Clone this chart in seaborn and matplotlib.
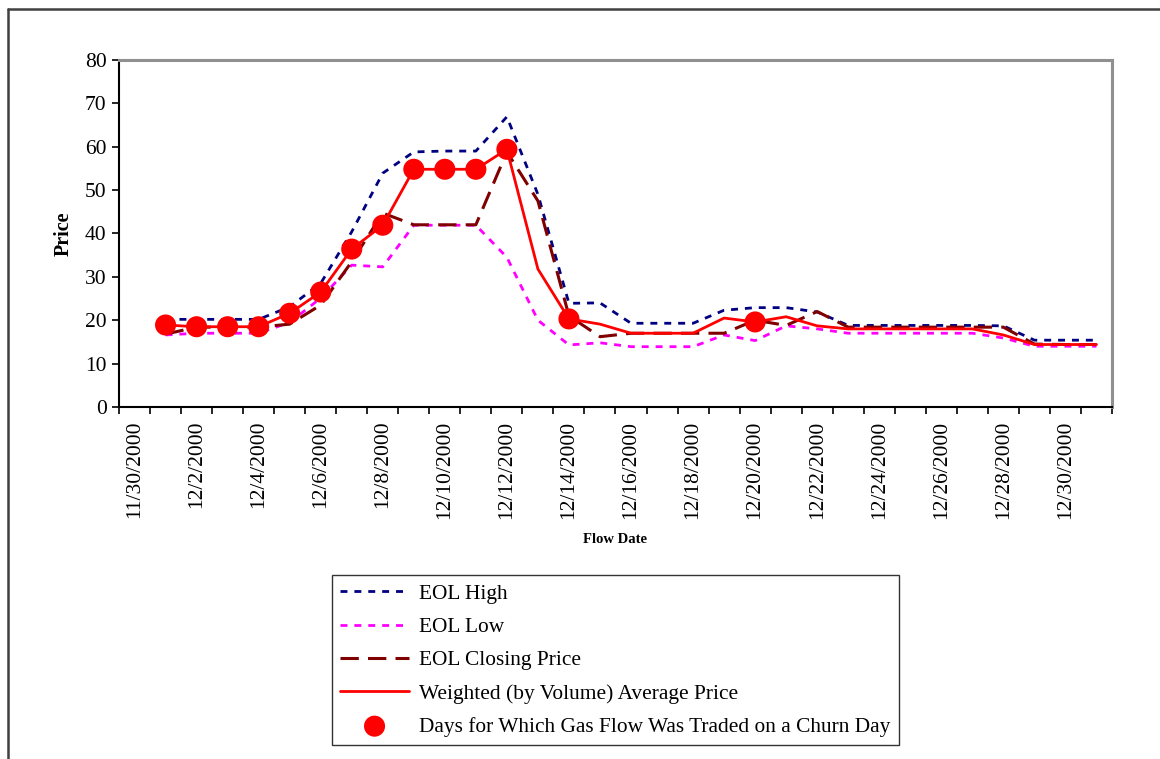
import matplotlib
matplotlib.use("Agg")
import matplotlib.pyplot as plt
import matplotlib.lines as mlines
import seaborn as sns
import pandas as pd

# categories on the axis: 11/30 has no data, 12/1..12/31 do
dates = ["11/30/2000"] + ["12/%d/2000" % d for d in range(1, 32)]
flow_days = list(range(1, 32))

eol_high = [20.2, 20.2, 20.2, 20.2, 23.1, 28.5, 40.4, 53.9, 58.8, 59.0, 59.0, 66.9, 49.0,
            23.9, 24.0, 19.3, 19.3, 19.3, 22.3, 22.9, 22.9, 21.9, 18.8, 18.8, 18.8, 18.8,
            18.8, 18.7, 15.4, 15.4, 15.4]
eol_low = [16.6, 17.0, 17.0, 17.0, 19.5, 25.1, 32.7, 32.3, 41.9, 41.9, 41.9, 34.5, 20.0,
           14.3, 14.8, 13.9, 13.9, 13.9, 16.6, 15.3, 18.7, 18.0, 17.0, 17.0, 17.0, 17.0,
           17.0, 15.9, 14.0, 14.0, 14.0]
eol_close = [16.8, 18.4, 18.4, 18.4, 19.1, 23.5, 33.5, 44.7, 42.0, 42.0, 42.0, 58.8, 47.5,
             21.0, 16.2, 17.0, 17.0, 17.0, 17.0, 20.0, 18.8, 22.0, 18.4, 18.4, 18.4, 18.4,
             18.4, 18.4, 14.5, 14.4, 14.4]
weighted = [18.9, 18.5, 18.5, 18.5, 21.6, 26.5, 36.4, 41.9, 54.8, 54.8, 54.8, 59.4, 31.8,
            20.3, 19.1, 17.0, 17.0, 17.0, 20.5, 19.6, 20.8, 18.7, 18.0, 18.0, 18.0, 18.0,
            18.0, 16.6, 14.4, 14.4, 14.4]
churn_days = [1, 2, 3, 4, 5, 6, 7, 8, 9, 10, 11, 12, 14, 20]

df = pd.DataFrame({"day": flow_days, "high": eol_high, "low": eol_low,
                   "close": eol_close, "wavg": weighted})
churn = df[df["day"].isin(churn_days)]

sns.set_theme(style="white")
plt.rcParams["font.family"] = ["Liberation Serif", "DejaVu Serif"]
plt.rcParams.update({"text.color": "black", "axes.labelcolor": "black",
                     "xtick.color": "black", "ytick.color": "black"})

fig = plt.figure(figsize=(11.6, 7.59), dpi=100)
ax = fig.add_axes([0.1026, 0.4638, 0.856, 0.4572])

sns.lineplot(data=df, x="day", y="high", ax=ax, color="#000080", lw=2,
             label="EOL High")
ax.lines[-1].set_dashes((2.5, 2.5))
sns.lineplot(data=df, x="day", y="low", ax=ax, color="#ff00ff", lw=2,
             label="EOL Low")
ax.lines[-1].set_dashes((2.5, 2.5))
sns.lineplot(data=df, x="day", y="close", ax=ax, color="#800000", lw=2.2,
             label="EOL Closing Price")
ax.lines[-1].set_dashes((6, 3))
sns.lineplot(data=df, x="day", y="wavg", ax=ax, color="#ff0000", lw=2,
             label="Weighted (by Volume) Average Price")
sns.scatterplot(data=churn, x="day", y="wavg", ax=ax, color="#ff0000", s=230,
                edgecolor="none", zorder=5,
                label="Days for Which Gas Flow Was Traded on a Churn Day")

ax.set_xlim(-0.5, len(dates) - 0.5)
ax.set_ylim(0, 80)
ax.set_yticks(range(0, 81, 10))
ax.set_xticks([i - 0.5 for i in range(len(dates) + 1)])
ax.set_xticklabels([])
ax.set_xticks(range(0, len(dates), 2), minor=True)
ax.set_xticklabels(dates[::2], minor=True, rotation=90, fontsize=15.5)
ax.tick_params(axis="x", which="major", direction="out", length=5, width=1.2,
               color="black", bottom=True)
ax.tick_params(axis="x", which="minor", length=0, pad=10, bottom=True)
ax.tick_params(axis="y", direction="out", length=5, width=1.2, color="black",
               labelsize=15.5, left=True, pad=4)

ax.set_ylabel("Price", fontsize=14.5, fontweight="bold", labelpad=8)
ax.set_xlabel("Flow Date", fontsize=10.5, fontweight="bold", labelpad=10)

for side in ["left", "bottom"]:
    ax.spines[side].set_color("black")
    ax.spines[side].set_linewidth(1.5)
for side in ["top", "right"]:
    ax.spines[side].set_color("#909090")
    ax.spines[side].set_linewidth(2.2)

handles, labels = ax.get_legend_handles_labels()
ax.get_legend().remove()
leg = fig.legend(handles, labels, loc="lower left", bbox_to_anchor=(0.286, 0.018),
                 fontsize=15.4, frameon=True, fancybox=False, edgecolor="black",
                 handlelength=3.2, labelspacing=0.62, borderpad=0.4,
                 handletextpad=0.5, borderaxespad=0)
leg.get_frame().set_linewidth(1.0)

# outer chart frame (cropped at right and bottom)
fig.add_artist(mlines.Line2D([8 / 1160, 8 / 1160], [0, 1 - 9 / 759],
                             transform=fig.transFigure, color="#404040", lw=1.8))
fig.add_artist(mlines.Line2D([8 / 1160, 1], [1 - 9 / 759, 1 - 9 / 759],
                             transform=fig.transFigure, color="#404040", lw=1.8))

fig.savefig("out.png", dpi=100, facecolor="white")
